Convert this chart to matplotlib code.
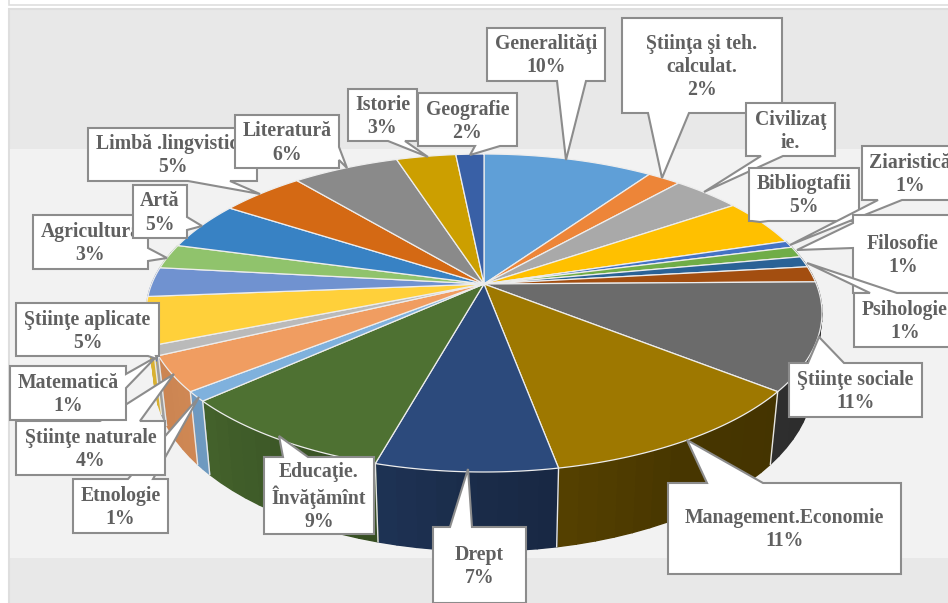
#!/usr/bin/env python3
import numpy as np
import matplotlib
matplotlib.use("Agg")
import matplotlib.pyplot as plt
from matplotlib.patches import Polygon, Rectangle

# slices, clockwise from 12 o'clock
categories = ["Generalităţi", "Ştiinţa şi teh. calculat.", "Civilizaţie.", "Bibliogtafii",
              "Ziaristică", "Filosofie", "Psihologie", "Religie", "Ştiinţe sociale",
              "Management.Economie", "Drept", "Educaţie. Învăţămînt", "Etnologie",
              "Ştiinţe naturale", "Matematică", "Ştiinţe aplicate", "Medicină", "Agricultura",
              "Artă", "Limbă .lingvistică", "Literatură", "Istorie", "Geografie"]
shares = [9.7, 1.9, 3.9, 4.8, 0.7, 1.1, 1.1, 1.6, 10.9, 11.4, 7.3, 9.0, 1.0, 3.6, 1.0,
          4.8, 3.0, 2.5, 4.9, 4.8, 6.1, 3.4, 1.6]
colors = ["#5F9FD7", "#ED8538", "#A9A9A9", "#FFC000", "#4472C4", "#70AD47", "#2A6296",
          "#A34E10", "#6B6B6B", "#9E7800", "#2C4A7C", "#4E7132", "#7FB1DD", "#F09D61",
          "#BABABA", "#FFD03A", "#7092D0", "#90C36C", "#3882C4", "#D46914", "#8A8A8A",
          "#CC9F00", "#3960A6"]

# callout text, box (x0, y0, x1, y1), pointer (side, base a, base b, tip x, tip y); drawn in this order
callout_text = ["Generalităţi\n10%", "Ştiinţa şi teh.\ncalculat.\n2%", "Civilizaţ\nie.",
                "Bibliogtafii\n5%", "Ziaristică\n1%", "Filosofie\n1%", "Psihologie\n1%",
                "Ştiinţe sociale\n11%", "Management.Economie\n11%", "Drept\n7%",
                "Educaţie.\nÎnvăţămînt\n9%", "Etnologie\n1%", "Ştiinţe naturale\n4%",
                "Matematică\n1%", "Ştiinţe aplicate\n5%", "Agricultura\n3%", "Artă\n5%",
                "Limbă .lingvistică\n5%", "Literatură\n6%", "Istorie\n3%", "Geografie\n2%"]
callout_box = [(487, 28, 605, 81), (622, 18, 782, 113), (746, 103, 835, 156),
               (749, 168, 859, 221), (862, 146, 958, 200), (853, 215, 953, 293),
               (854, 293, 956, 347), (789, 363, 922, 417), (668, 483, 901, 574),
               (433, 527, 526, 603), (264, 457, 374, 534), (73, 479, 168, 533),
               (16, 421, 165, 475), (10, 366, 126, 420), (16, 303, 159, 356),
               (33, 215, 148, 269), (133, 185, 187, 238), (88, 128, 257, 181),
               (235, 115, 339, 168), (348, 89, 417, 141), (418, 93, 517, 146)]
callout_ptr = [("b", 557, 586, 566, 160), ("b", 648, 689, 662, 178), ("b", 761, 783, 704, 192),
               ("b", 752, 768, 760, 222), ("b", 878, 902, 790, 245), ("l", 223, 248, 797, 250),
               ("t", 870, 897, 807, 263), ("t", 808, 844, 819, 337), ("t", 707, 763, 687, 440),
               ("t", 450, 472, 468, 469), ("t", 283, 308, 279, 436), ("t", 128, 153, 199, 397),
               ("t", 100, 140, 174, 374), ("r", 374, 388, 156, 357), ("b", 148, 156, 157, 359),
               ("r", 248, 261, 167, 258), ("r", 217, 230, 202, 226), ("b", 188, 230, 260, 194),
               ("r", 147, 160, 347, 168), ("b", 388, 405, 428, 157), ("b", 475, 500, 470, 155)]

W, H = 948, 603
APEX_X, APEX_Y = 484, 284
SCALE_U, SCALE_V, TILT = 332.3, 153.7, 0.1824

# wall shade by angle, lighter to the left
shade_angle = [90, 118, 150, 183, 212, 229, 240, 270]
shade_value = [0.42, 0.42, 0.45, 0.60, 0.78, 0.87, 0.85, 0.85]


def project(theta):
    # disc point to pixel offset from the apex, with perspective
    u, v = np.sin(theta), np.cos(theta)
    d = 1 + TILT * v
    return SCALE_U * u / d, SCALE_V * v / d


def top_xy(theta):
    x, y = project(theta)
    return APEX_X + x, APEX_Y - y


def bottom_xy(theta):
    x, y = project(theta)
    return APEX_X + 0.975 * x, APEX_Y - (1.08 * y - 64)


def callout(ax, box, ptr, text, z):
    x0, y0, x1, y1 = box
    side, a, b, tx, ty = ptr
    tip = (tx, ty)
    if side == "t":
        pts = [(x0, y0), (a, y0), tip, (b, y0), (x1, y0), (x1, y1), (x0, y1)]
    elif side == "r":
        pts = [(x0, y0), (x1, y0), (x1, a), tip, (x1, b), (x1, y1), (x0, y1)]
    elif side == "b":
        pts = [(x0, y0), (x1, y0), (x1, y1), (b, y1), tip, (a, y1), (x0, y1)]
    else:
        pts = [(x0, y0), (x1, y0), (x1, y1), (x0, y1), (x0, b), tip, (x0, a)]
    ax.add_patch(Polygon(pts, closed=True, fc="white", ec="#8C8C8C", lw=1.5, zorder=z, joinstyle="miter"))
    ax.text((x0 + x1) / 2, (y0 + y1) / 2 + 1.5, text, ha="center", va="center", zorder=z + 0.5,
            family="Liberation Serif", weight="bold", fontsize=14.2, color="#606060", linespacing=1.2)


def main():
    fig = plt.figure(figsize=(W / 100, H / 100), dpi=100)
    ax = fig.add_axes([0, 0, 1, 1])
    ax.set_xlim(0, W)
    ax.set_ylim(H, 0)
    ax.axis("off")

    # frames and background bands
    ax.add_patch(Rectangle((9, -5), W, 10, fc="white", ec="#DEDEDE", lw=1.2, zorder=0))
    ax.add_patch(Rectangle((9, 9), W, H, fc="#E8E8E8", ec="#DEDEDE", lw=1.5, zorder=0))
    ax.add_patch(Rectangle((10, 149), W, 409, fc="#F2F2F2", ec="none", zorder=0.1))

    edges = np.radians(np.concatenate([[0], np.cumsum(shares)]) / sum(shares) * 360)

    # side walls, back to front
    rgb = [np.array(matplotlib.colors.to_rgb(c)) for c in colors]
    for i, col in enumerate(rgb):
        steps = np.linspace(edges[i], edges[i + 1], max(2, int(np.degrees(edges[i + 1] - edges[i]) / 3) + 2))
        if np.cos((edges[i] + edges[i + 1]) / 2) > 0.35:
            continue
        for t0, t1 in zip(steps[:-1], steps[1:]):
            f = np.interp(np.degrees((t0 + t1) / 2), shade_angle, shade_value)
            pts = [top_xy(t0), top_xy(t1), bottom_xy(t1), bottom_xy(t0)]
            ax.add_patch(Polygon(pts, closed=True, fc=col * f, ec=col * f, lw=1.0, zorder=1))
    for t in edges:
        if np.pi / 2 < t < 1.45 * np.pi:
            p, q = top_xy(t), bottom_xy(t)
            ax.plot([p[0], q[0]], [p[1], q[1]], color="#E6E6E6", lw=1, zorder=1.5)

    # top surface
    for i, c in enumerate(colors):
        t = np.linspace(edges[i], edges[i + 1], 60)
        x, y = top_xy(t)
        pts = [(APEX_X, APEX_Y)] + list(zip(x, y))
        ax.add_patch(Polygon(pts, closed=True, fc=c, ec="#EDEDED", lw=0.9, zorder=2, joinstyle="round"))

    for i, (txt, box, ptr) in enumerate(zip(callout_text, callout_box, callout_ptr)):
        callout(ax, box, ptr, txt, 3 + i)

    fig.savefig("out.png", dpi=100)


if __name__ == "__main__":
    main()
